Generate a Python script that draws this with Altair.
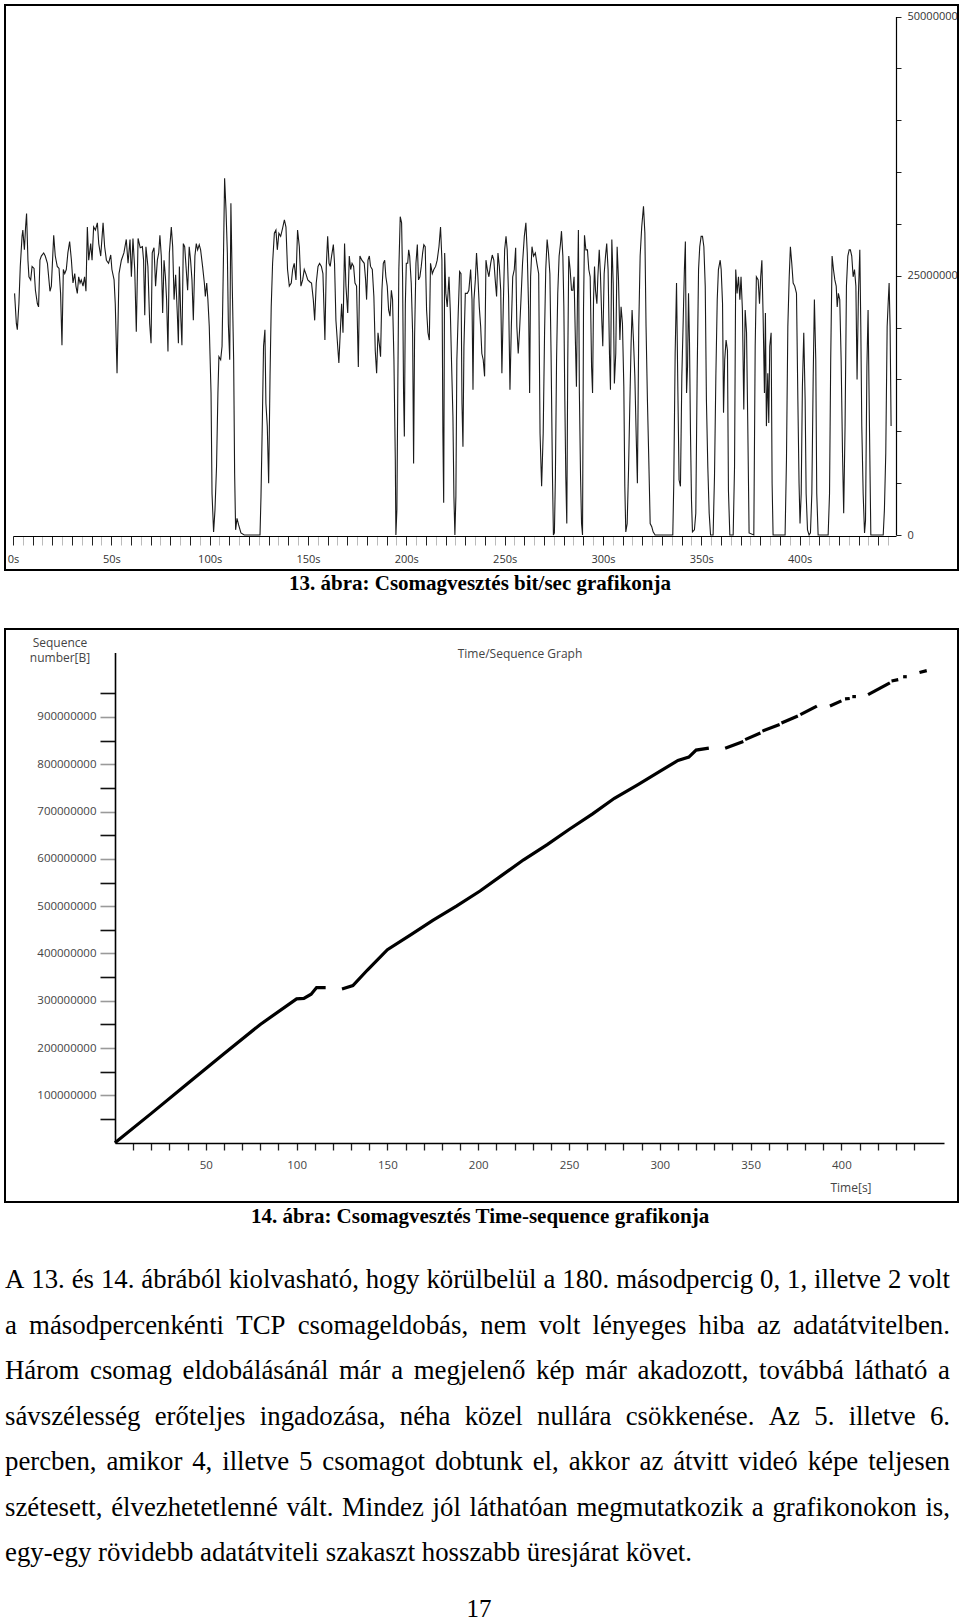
import altair as alt
import pandas as pd

# ---------------- data: figure 13 (bit/sec) ----------------
bw_time = [0.8, 1.7, 2.2, 3.0, 3.7, 4.6, 5.0, 5.8, 6.4, 6.9, 7.6, 8.1, 9.0, 9.7, 10.7, 11.4, 12.4, 13.0, 13.7, 14.4,
           15.6, 16.4, 17.5, 18.8, 19.5, 20.7, 21.5, 22.5, 23.4, 24.2, 24.9, 25.6, 26.3, 27.1, 27.9, 28.8, 29.7, 30.5,
           31.4, 32.0, 32.7, 33.4, 34.1, 34.7, 35.6, 36.4, 37.1, 37.8, 38.5, 39.5, 40.2, 41.0, 41.9, 42.9, 43.6, 44.6,
           45.8, 46.6, 47.5, 48.6, 49.7, 50.3, 51.4, 52.0, 52.9, 53.9, 55.1, 56.4, 57.6, 58.5, 59.5, 60.2, 61.0, 61.9,
           62.7, 63.6, 64.7, 65.8, 66.4, 67.0, 67.6, 68.6, 69.5, 70.2, 70.8, 71.7, 72.5, 73.4, 74.1, 74.7, 75.4, 76.1,
           76.8, 77.5, 78.1, 78.8, 79.5, 80.5, 81.2, 81.9, 82.7, 83.6, 84.1, 84.6, 85.3, 85.9, 86.6, 87.3, 88.8, 89.6,
           90.3, 91.0, 91.7, 92.5, 93.2, 93.9, 94.7, 95.4, 96.4, 97.3, 97.8, 98.5, 99.1, 99.8, 100.7, 101.2, 102.0,
           102.7, 103.5, 104.2, 104.7, 105.6, 106.3, 107.0, 107.6, 108.3, 109.0, 109.5, 110.2, 110.8, 111.5, 112.2,
           112.7, 113.2, 113.9, 114.7, 115.9, 117.6, 125.6, 126.1, 126.8, 127.4, 128.1, 128.6, 129.3, 130.0, 130.7,
           131.3, 132.0, 132.9, 133.7, 134.4, 135.2, 136.1, 137.1, 138.0, 138.8, 139.6, 140.5, 141.5, 142.2, 143.0,
           143.9, 144.7, 145.6, 146.4, 147.3, 148.1, 148.9, 149.9, 151.0, 151.8, 152.7, 153.4, 154.2, 155.1, 155.9,
           156.8, 157.6, 158.6, 159.3, 160.0, 160.7, 161.3, 162.0, 162.9, 163.5, 164.2, 165.1, 165.7, 166.4, 167.1,
           167.8, 168.6, 169.3, 170.2, 171.0, 171.7, 172.4, 173.2, 173.9, 174.7, 175.6, 176.4, 177.4, 178.6, 179.3,
           179.8, 180.5, 181.2, 181.8, 182.7, 183.5, 184.2, 184.9, 185.6, 186.4, 186.9, 187.6, 188.3, 189.0, 189.6,
           190.3, 191.0, 191.7, 192.4, 193.0, 193.7, 194.4, 194.7, 195.2, 195.7, 196.2, 196.9, 197.6, 198.1, 198.6,
           199.0, 199.5, 200.0, 200.7, 201.2, 201.7, 202.5, 203.2, 203.7, 204.2, 204.9, 205.6, 206.2, 206.9, 207.6,
           208.3, 208.9, 209.6, 210.3, 211.0, 211.7, 212.3, 213.2, 214.0, 214.9, 215.7, 216.6, 217.4, 218.1, 218.6,
           219.0, 219.5, 220.1, 220.8, 221.7, 222.4, 223.0, 223.7, 224.2, 224.7, 225.2, 225.7, 226.4, 227.1, 227.8,
           228.3, 228.8, 229.3, 230.0, 231.0, 231.8, 232.7, 233.4, 233.9, 234.4, 235.1, 235.7, 236.4, 237.1, 237.8,
           238.4, 239.1, 239.8, 240.5, 241.2, 242.0, 242.9, 243.7, 244.5, 245.2, 245.9, 246.6, 247.3, 248.0, 248.6,
           249.3, 250.0, 250.7, 251.3, 252.0, 252.7, 253.4, 254.1, 254.9, 255.6, 256.2, 256.9, 257.6, 258.3, 259.1,
           260.0, 260.8, 261.5, 262.2, 262.7, 263.2, 263.9, 264.7, 265.6, 266.4, 267.3, 268.0, 268.8, 269.6, 270.3,
           270.9, 271.6, 272.3, 273.0, 273.6, 274.3, 274.8, 275.3, 275.8, 276.4, 277.0, 277.7, 278.4, 278.9, 279.6,
           280.1, 280.6, 281.1, 281.6, 282.1, 282.6, 283.3, 284.0, 284.7, 285.3, 286.0, 286.5, 287.0, 287.5, 288.0,
           288.6, 289.1, 289.6, 290.1, 290.6, 291.3, 292.1, 292.8, 293.5, 294.2, 294.7, 295.2, 295.7, 296.2, 296.9,
           297.4, 298.1, 298.7, 299.4, 299.9, 300.6, 301.3, 301.9, 302.6, 303.3, 303.8, 304.5, 305.2, 305.8, 306.5,
           307.2, 307.9, 308.6, 309.2, 309.9, 310.6, 311.1, 311.6, 312.3, 313.0, 313.6, 314.3, 314.8, 315.5, 316.2,
           316.9, 317.5, 318.2, 318.9, 319.7, 320.6, 321.3, 321.9, 322.6, 323.3, 324.0, 324.8, 325.5, 326.5, 335.5,
           336.0, 336.7, 337.4, 338.1, 338.7, 339.4, 340.1, 340.8, 341.4, 341.9, 342.5, 343.0, 343.5, 344.0, 344.5,
           345.0, 345.5, 346.5, 347.2, 347.9, 348.6, 349.2, 349.9, 350.6, 351.3, 352.0, 352.6, 353.3, 354.0, 354.7,
           356.0, 356.7, 357.4, 358.1, 358.7, 359.6, 360.1, 360.8, 361.3, 361.9, 362.6, 363.3, 363.8, 364.5, 366.2,
           366.9, 367.5, 368.2, 368.9, 369.6, 370.2, 370.9, 371.6, 372.3, 373.0, 373.6, 374.3, 376.7, 377.4, 378.0,
           378.9, 379.6, 380.2, 380.8, 381.4, 382.1, 382.6, 383.1, 383.8, 384.3, 384.8, 385.5, 386.0, 386.5, 392.6,
           393.3, 394.0, 394.7, 395.3, 396.0, 396.7, 397.5, 398.4, 399.1, 399.7, 400.2, 400.8, 401.4, 402.1, 402.8,
           403.3, 404.0, 404.8, 405.5, 406.2, 406.9, 407.5, 408.2, 408.7, 409.4, 414.5, 415.2, 415.8, 416.5, 417.2,
           417.9, 418.6, 419.1, 419.7, 420.4, 421.1, 421.8, 422.4, 423.1, 423.8, 424.5, 425.2, 425.8, 426.5, 427.2,
           427.9, 428.6, 429.2, 429.9, 430.6, 431.1, 431.6, 432.3, 433.0, 433.5, 434.2, 434.8, 435.5, 436.2, 442.5,
           443.1, 443.8, 444.5, 445.0, 445.5, 446.0, 446.5]
bw_mbit = [23.3, 20.4, 19.8, 22.3, 25.9, 28.8, 29.4, 27.5, 29.7, 31.0, 26.5, 24.9, 24.6, 25.9, 25.7, 23.6, 22.3, 22.0, 26.5, 26.9,
           27.2, 26.9, 26.2, 23.5, 24.0, 28.9, 26.9, 25.9, 25.7, 23.3, 18.3, 25.6, 25.2, 25.6, 27.2, 28.3, 26.5, 24.3,
           25.2, 24.0, 23.3, 24.9, 24.3, 24.6, 24.0, 24.9, 23.5, 29.7, 26.5, 28.1, 26.5, 29.7, 29.4, 30.1, 28.1, 26.9,
           30.1, 27.8, 26.5, 26.2, 27.0, 25.6, 24.6, 22.3, 15.6, 25.2, 26.5, 27.2, 28.5, 26.2, 28.5, 24.9, 28.6, 25.6,
           19.6, 28.6, 27.7, 27.8, 26.5, 21.2, 27.8, 25.9, 20.4, 18.5, 27.2, 27.7, 24.0, 26.5, 27.2, 28.9, 26.9, 21.4,
           26.5, 24.9, 22.7, 17.7, 27.2, 29.7, 27.8, 22.7, 25.1, 21.1, 18.5, 25.9, 21.1, 18.3, 28.1, 27.8, 23.6, 27.8,
           26.5, 24.6, 20.7, 26.9, 28.1, 27.5, 28.0, 27.5, 25.9, 24.3, 23.0, 24.3, 22.7, 20.1, 13.7, 4.0, 0.3,
           2.4, 6.6, 13.7, 17.2, 16.9, 18.2, 26.5, 34.4, 31.4, 27.2, 20.4, 16.9, 32.0, 24.0, 16.9,
           5.9, 0.5, 1.6, 1.0, 0.2, 0.0, 0.0, 3.7, 11.1, 18.2, 19.8, 12.7, 10.5, 5.0, 15.3,
           22.0, 26.2, 29.1, 29.4, 27.5, 29.1, 28.8, 29.6, 30.4, 29.7, 25.6, 24.0, 24.3, 25.6, 26.2,
           24.6, 29.4, 27.8, 24.0, 24.6, 25.6, 25.2, 24.6, 24.4, 24.3, 22.7, 20.7, 24.3, 25.9, 26.2,
           25.9, 25.2, 18.8, 25.9, 28.8, 26.2, 25.9, 26.9, 28.0, 26.2, 20.7, 18.2, 16.6, 19.5, 22.3,
           19.5, 28.1, 24.0, 21.4, 26.9, 25.6, 26.2, 25.9, 24.3, 24.0, 16.2, 26.9, 26.5, 26.2, 24.6,
           22.7, 26.5, 26.9, 25.9, 25.6, 23.0, 17.8, 15.6, 19.5, 18.2, 17.2, 23.6, 26.2, 26.5, 24.9,
           24.0, 21.7, 21.1, 23.6, 22.7, 16.9, 7.2, 0.0, 2.4, 15.0, 25.6, 30.7, 30.1, 24.9, 13.7,
           9.5, 22.3, 26.2, 26.2, 27.5, 26.9, 24.3, 19.5, 6.9, 19.1, 26.2, 28.0, 24.6, 24.9, 25.9,
           27.2, 28.0, 27.8, 21.7, 19.5, 18.8, 26.2, 25.2, 25.6, 25.9, 26.5, 27.8, 29.7, 26.5, 9.8,
           3.1, 27.2, 23.3, 22.0, 24.9, 21.4, 16.6, 11.4, 3.7, 0.0, 3.7, 16.9, 21.4, 25.4, 25.2,
           12.7, 8.5, 18.2, 23.3, 23.3, 23.6, 25.6, 22.7, 14.0, 22.7, 24.6, 27.2, 24.9, 22.0, 20.1,
           17.5, 16.9, 15.3, 26.5, 25.6, 24.9, 26.2, 27.0, 26.5, 24.6, 23.0, 27.2, 25.9, 23.6, 15.6,
           22.0, 27.5, 28.8, 27.5, 23.0, 14.0, 20.1, 24.9, 25.6, 27.7, 20.1, 17.5, 19.8, 22.7, 26.2,
           28.8, 30.1, 27.2, 21.7, 13.7, 24.9, 27.8, 26.9, 27.2, 26.2, 25.2, 9.8, 4.7, 9.8, 19.5,
           25.6, 28.5, 27.2, 25.2, 17.5, 5.9, 0.0, 0.2, 5.6, 16.9, 23.3, 26.9, 28.1, 29.3, 26.9,
           22.0, 13.0, 5.6, 1.1, 16.9, 26.9, 25.6, 23.6, 23.6, 24.9, 18.5, 14.3, 22.3, 29.4, 13.7,
           5.6, 1.1, 0.0, 21.7, 28.9, 27.5, 27.5, 25.6, 24.9, 16.2, 13.7, 22.7, 25.9, 23.6, 22.3,
           24.9, 27.5, 25.2, 20.7, 18.2, 25.2, 26.9, 28.1, 25.6, 17.5, 14.0, 28.5, 24.3, 14.6, 17.5,
           27.8, 24.6, 18.8, 22.0, 20.4, 14.3, 4.7, 0.3, 1.1, 6.3, 12.1, 18.5, 21.7, 18.8, 15.3,
           9.5, 5.0, 20.1, 26.9, 29.7, 31.7, 29.1, 20.1, 13.0, 7.2, 1.1, 0.8, 0.3, 0.0, 0.0,
           5.0, 17.5, 24.3, 13.7, 5.3, 4.7, 15.3, 20.7, 25.6, 28.3, 13.7, 16.2, 23.3, 18.5, 9.8,
           3.4, 0.3, 0.5, 2.1, 15.6, 25.6, 27.8, 28.8, 28.8, 27.8, 24.0, 13.0, 6.6, 2.1, 0.0,
           0.0, 5.6, 15.3, 22.7, 25.6, 26.5, 25.6, 22.3, 11.8, 16.9, 18.8, 17.8, 4.3, 0.0, 0.0,
           6.6, 25.6, 23.3, 24.9, 22.7, 24.9, 21.7, 12.1, 21.7, 19.5, 11.1, 0.2, 0.0, 18.2, 24.9,
           24.6, 22.3, 24.9, 26.5, 21.4, 13.7, 21.4, 10.5, 15.6, 10.8, 18.2, 19.5, 5.0, 0.0, 0.0,
           7.2, 20.1, 24.9, 27.8, 26.2, 24.3, 24.0, 23.3, 13.0, 5.0, 1.1, 4.0, 14.3, 19.5, 13.0,
           4.0, 0.5, 0.0, 0.2, 4.0, 15.3, 22.7, 16.9, 4.0, 0.0, 0.0, 4.0, 16.9, 26.9, 25.6,
           24.6, 24.0, 22.0, 23.3, 22.7, 16.9, 7.9, 2.1, 10.5, 24.0, 26.9, 27.5, 27.5, 26.9, 24.9,
           25.6, 24.0, 15.0, 23.3, 27.5, 20.1, 10.5, 4.0, 0.2, 1.4, 16.2, 21.7, 10.5, 0.0, 0.0,
           2.4, 7.9, 20.1, 22.3, 24.3, 20.1, 10.5]

# ---------------- data: figure 14 (time / sequence) ----------------
seq_time = [0, 20, 40, 60, 80, 100, 104, 108, 111, 116,
            125, 131, 139, 150, 163, 175, 188, 201, 213, 225, 238, 250, 263, 275, 288, 300, 310, 316, 320, 327,
            336, 346, 347, 355.4, 356.5, 366, 367, 376, 377.4, 386.5, 393.7, 400,
            402, 404.6, 406, 408, 414.7, 426.7, 427.6, 431.3, 434, 436, 443, 447]
seq_mbyte = [0, 62, 125, 188, 250, 304, 305, 314, 328, 328,
             325, 332, 365, 408, 440, 470, 500, 532, 565, 598, 630, 662, 695, 728, 757, 785, 808, 815, 830, 834,
             834, 848, 852, 866, 870, 884, 887, 902, 905, 923, 923, 934,
             938, 939, 943, 943, 947, 972, 976, 979, 985, 985, 994, 998]
seq_part = [0] * 10 + [1] * 20 + [2, 2, 3, 3, 4, 4, 5, 5, 6, 6, 7, 7,
                                  8, 8, 9, 9, 10, 10, 11, 11, 12, 12, 13, 13]

# ---------------- text ----------------
caption1 = "13. ábra: Csomagvesztés bit/sec grafikonja"
caption2 = "14. ábra: Csomagvesztés Time-sequence grafikonja"
graph_title = "Time/Sequence Graph"
y_title_lines = ["Sequence", "number[B]"]
x_title2 = "Time[s]"
para_lines = [
    "A 13. és 14. ábrából kiolvasható, hogy körülbelül a 180. másodpercig 0, 1, illetve 2 volt",
    "a másodpercenkénti TCP csomageldobás, nem volt lényeges hiba az adatátvitelben.",
    "Három csomag eldobálásánál már a megjelenő kép már akadozott, továbbá látható a",
    "sávszélesség erőteljes ingadozása, néha közel nullára csökkenése. Az 5. illetve 6.",
    "percben, amikor 4, illetve 5 csomagot dobtunk el, akkor az átvitt videó képe teljesen",
    "szétesett, élvezhetetlenné vált. Mindez jól láthatóan megmutatkozik a grafikonokon is,",
    "egy-egy rövidebb adatátviteli szakaszt hosszabb üresjárat követ.",
]
page_number = "17"

x1_ticks = list(range(0, 450, 5))
y1_ticks = list(range(0, 50000001, 5000000))
x2_ticks = list(range(10, 450, 10))
y2_ticks = list(range(50000000, 950000001, 50000000))

W = 960
H1, H2, H3 = 600, 640, 381
SANS = "Open Sans"
SERIF = "Liberation Serif"
PARA_SIZE = 26.8
PARA_LEFT, PARA_RIGHT = 5, 950

# Times / Liberation Serif advance widths (1/1000 em) used to justify the paragraph lines
_TW = {" ": 250, ",": 250, ".": 250, "-": 333, "0": 500, "1": 500, "2": 500, "3": 500, "4": 500,
       "5": 500, "6": 500, "7": 500, "8": 500, "9": 500,
       "A": 722, "C": 667, "H": 722, "M": 889, "P": 556, "T": 611,
       "a": 444, "b": 500, "c": 444, "d": 500, "e": 444, "f": 333, "g": 500, "h": 500, "i": 278,
       "j": 278, "k": 500, "l": 278, "m": 778, "n": 500, "o": 500, "p": 500, "q": 500, "r": 333,
       "s": 389, "t": 278, "u": 500, "v": 500, "w": 722, "x": 500, "y": 500, "z": 444,
       "á": 444, "é": 444, "í": 278, "ó": 500, "ö": 500, "ő": 500, "ú": 500, "ü": 500, "ű": 500}


def text_w(s, size):
    return sum(_TW.get(ch, 500) for ch in s) * size / 1000.0


def justify(lines, size, left, right):
    rows = []
    for i, line in enumerate(lines):
        words = line.split(" ")
        widths = [text_w(w, size) for w in words]
        last = i == len(lines) - 1
        gap = text_w(" ", size)
        if not last and len(words) > 1:
            gap = (right - left - sum(widths)) / (len(words) - 1)
        pos = left
        for w, ww in zip(words, widths):
            rows.append({"row": i, "word": w, "xpos": pos})
            pos += ww + gap
    return pd.DataFrame(rows)


def frame(x0, x1, y0, y1):
    return alt.Chart(pd.DataFrame({"k": [0]})).mark_rect(
        fillOpacity=0, stroke="black", strokeWidth=2
    ).encode(x=alt.value(x0), x2=alt.value(x1), y=alt.value(y0), y2=alt.value(y1))


def label(txt, x, y, size, font=SANS, weight="normal", color="black", align="center", baseline="middle"):
    return alt.Chart(pd.DataFrame({"txt": [txt]})).mark_text(
        font=font, fontSize=size, fontWeight=weight, color=color, align=align, baseline=baseline
    ).encode(x=alt.value(x), y=alt.value(y), text="txt:N")


# ---------------- cell 1: figure 13 ----------------
bw = pd.DataFrame({"t": bw_time, "bps": [v * 1e6 for v in bw_mbit]})
line1 = alt.Chart(bw).mark_line(color="#1a1a1a", strokeWidth=1.1).encode(
    x=alt.X("t:Q",
            scale=alt.Scale(domain=[0, 449], range=[13, 896], nice=False, zero=False),
            axis=alt.Axis(orient="bottom", offset=-64, values=x1_ticks, grid=False, title=None,
                          labelExpr="datum.value % 50 === 0 ? datum.value + 's' : ''",
                          tickSize=9, tickWidth=1,
                          tickColor={"condition": {"test": "datum.value % 10 === 0", "value": "#222"},
                                     "value": "#bbbbbb"},
                          labelPadding=8, labelFlush=False, labelOverlap=False,
                          domainColor="black", domainWidth=1.2,
                          labelFont=SANS, labelFontSize=11, labelColor="#333")),
    y=alt.Y("bps:Q",
            scale=alt.Scale(domain=[0, 50000000], range=[535, 16.5], nice=False),
            axis=alt.Axis(orient="right", offset=-64, values=y1_ticks, grid=False, title=None,
                          labelExpr="datum.value % 25000000 === 0 ? '' + datum.value : ''",
                          tickSize=5, tickColor="#222", labelPadding=6, labelFlush=False,
                          labelOverlap=False, domainColor="black", domainWidth=1.2,
                          labelFont=SANS, labelFontSize=11, labelColor="#333")),
)
cell1 = alt.layer(
    frame(5, 958, 5, 570),
    line1,
    label(caption1, 480, 584, 21, font=SERIF, weight="bold"),
).properties(width=W, height=H1)

# ---------------- cell 2: figure 14 ----------------
seq = pd.DataFrame({"t": seq_time, "s": [v * 1e6 for v in seq_mbyte], "part": seq_part})
line2 = alt.Chart(seq).mark_line(color="black", strokeWidth=3.2, strokeCap="butt").encode(
    x=alt.X("t:Q",
            scale=alt.Scale(domain=[0, 456.5], range=[115, 944], nice=False, zero=False),
            axis=alt.Axis(orient="bottom", offset=-97, values=x2_ticks, grid=False, title=None,
                          labelExpr="datum.value % 50 === 0 ? '' + datum.value : ''",
                          tickSize=7, tickWidth=1.3, tickColor="#222",
                          labelPadding=9, labelFlush=False, labelOverlap=False,
                          domainColor="black", domainWidth=1.6,
                          labelFont=SANS, labelFontSize=11.5, labelColor="#444")),
    y=alt.Y("s:Q",
            scale=alt.Scale(domain=[0, 1036000000], range=[542.7, 52.6], nice=False),
            axis=alt.Axis(orient="left", offset=-115, values=y2_ticks, grid=False, title=None,
                          labelExpr="datum.value % 100000000 === 0 ? '' + datum.value : ''",
                          tickSize=15, tickWidth=1.6,
                          tickColor={"condition": {"test": "datum.value % 100000000 === 0", "value": "#9a9a9a"},
                                     "value": "#111"},
                          labelPadding=4, labelFlush=False, labelOverlap=False,
                          domainColor="black", domainWidth=1.6,
                          labelFont=SANS, labelFontSize=11.5, labelColor="#444")),
    detail="part:N",
)
cell2 = alt.layer(
    frame(5, 958, 29, 602),
    line2,
    label(graph_title, 520, 54, 12, color="#444"),
    label(y_title_lines[0], 60, 43, 12, color="#444"),
    label(y_title_lines[1], 60, 58, 12, color="#444"),
    label(x_title2, 851, 588, 12, color="#444"),
    label(caption2, 480, 617, 21, font=SERIF, weight="bold"),
).properties(width=W, height=H2)

# ---------------- cell 3: paragraph ----------------
para = justify(para_lines, PARA_SIZE, PARA_LEFT, PARA_RIGHT)
para_text = alt.Chart(para).mark_text(
    font=SERIF, fontSize=PARA_SIZE, align="left", baseline="middle", color="black"
).encode(
    x=alt.X("xpos:Q", scale=alt.Scale(domain=[0, W], range=[0, W], nice=False, zero=False), axis=None),
    y=alt.Y("row:Q", scale=alt.Scale(domain=[0, 6], range=[40, 313], nice=False, zero=False), axis=None),
    text="word:N",
)
cell3 = alt.layer(
    para_text,
    label(page_number, 479, 377, 25, font=SERIF, baseline="alphabetic"),
).properties(width=W, height=H3)

chart = alt.vconcat(cell1, cell2, cell3, spacing=0, bounds="flush").properties(
    padding=0, background="white"
).configure_view(stroke="transparent", strokeWidth=0)

chart.save("out.html", embed_options={"renderer": "svg", "actions": False})
